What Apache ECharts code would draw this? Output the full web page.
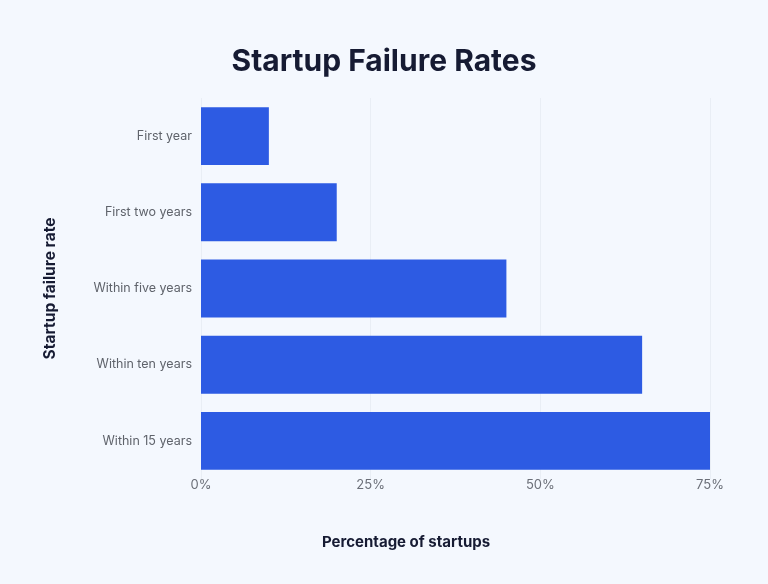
<!DOCTYPE html>
<html><head><meta charset="utf-8">
<script src="https://cdn.jsdelivr.net/npm/echarts@6/dist/echarts.min.js"></script>
<style>html,body{margin:0;padding:0;background:#F4F8FE;}#c{width:768px;height:584px;}</style>
</head><body><div id="c"></div>
<script>
const categories = ["First year","First two years","Within five years","Within ten years","Within 15 years"];
const failureRates = [10, 20, 45, 65, 75];
const xTicks = [0, 25, 50, 75];

const chart = echarts.init(document.getElementById('c'));
chart.setOption({
  backgroundColor: '#F4F8FE',
  textStyle: { fontFamily: 'Inter, "Noto Sans", sans-serif' },
  title: {
    text: 'Startup Failure Rates', left: 'center', top: 42,
    textStyle: { fontSize: 30, fontWeight: 'bold', color: '#161b33', fontFamily: 'Inter, sans-serif' }
  },
  grid: { left: 201, right: 58, top: 98, bottom: 105 },
  xAxis: {
    type: 'value', min: xTicks[0], max: xTicks[xTicks.length-1], interval: 25,
    axisLine: { show: false }, axisTick: { show: false },
    splitLine: { show: true, lineStyle: { color: '#e9eef5', width: 1 } },
    axisLabel: { formatter: '{value}%', color: '#6b6f78', fontSize: 13, margin: 0 }
  },
  yAxis: {
    type: 'category', data: categories, inverse: true,
    axisLine: { show: false }, axisTick: { show: false },
    axisLabel: { color: '#5f636b', fontSize: 12.5, margin: 9 },
    name: 'Startup failure rate', nameLocation: 'middle', nameGap: 143, nameRotate: 90,
    nameTextStyle: { fontSize: 15.5, fontWeight: 'bold', color: '#161b33' }
  },
  graphic: [{
    type: 'text', left: 322, top: 535,
    style: { text: 'Percentage of startups', fontSize: 15, fontWeight: 'bold', fill: '#161b33', fontFamily: 'Inter, sans-serif' }
  }],
  series: [{
    type: 'bar', data: failureRates, barCategoryGap: '24%',
    itemStyle: { color: '#2D5BE3' }
  }]
});
</script></body></html>
